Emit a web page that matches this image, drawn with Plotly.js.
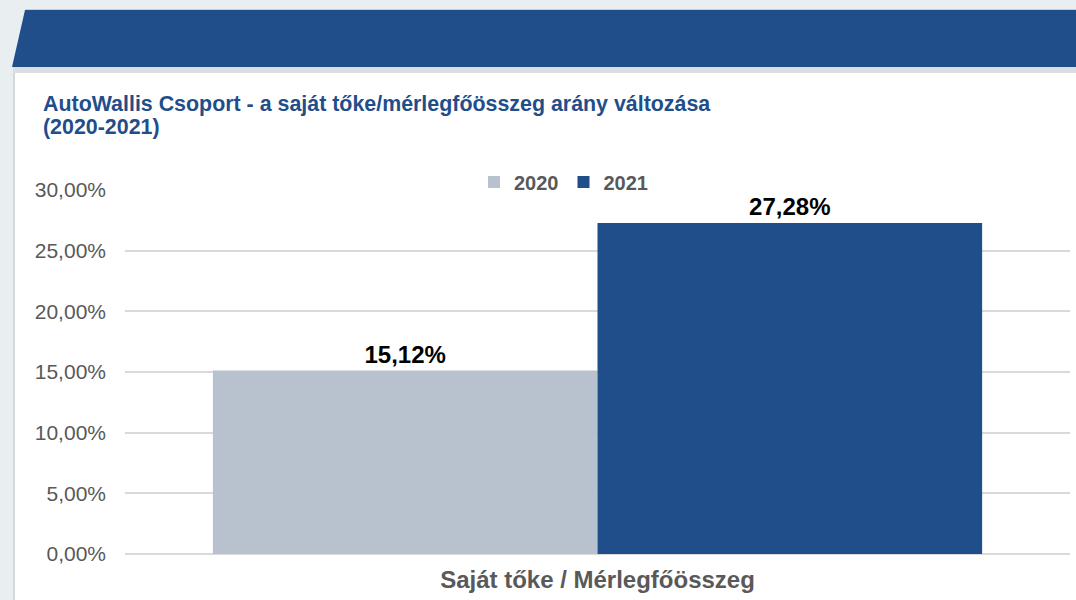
<!DOCTYPE html>
<html><head><meta charset="utf-8">
<script src="https://cdn.plot.ly/plotly-3.0.1.min.js"></script>
<style>html,body{margin:0;padding:0;background:#e9eef1;} #chart{width:1076px;height:600px;}</style>
</head><body><div id="chart"></div>
<script>
const categories = ['Saját tőke / Mérlegfőösszeg'];
const seriesNames = ['2020', '2021'];
const values2020 = [0.1512];
const values2021 = [0.2728];
const yTickVals = [0, 0.05, 0.10, 0.15, 0.20, 0.25, 0.30];
const titleLine1 = 'AutoWallis Csoport - a saját tőke/mérlegfőösszeg arány változása';
const titleLine2 = '(2020-2021)';

const W = 1076, H = 600, L = 125, R = 6, T = 190, B = 46;
const pw = W - L - R, ph = H - T - B;
const X = px => (px - L) / pw;
const Y = py => (H - B - py) / ph;

const FONT = '"Liberation Sans", Arial, sans-serif';
const BLUE = '#1f4e8a';
const GRAY_BAR = '#b8c2ce';
const TXT = '#595959';

const traces = [
  {type: 'bar', name: seriesNames[0], x: categories, y: values2020,
   marker: {color: GRAY_BAR}, texttemplate: '%{y:.2%}', textposition: 'outside',
   textfont: {family: FONT, size: 24, weight: 'bold', color: '#000'}, cliponaxis: false, hoverinfo: 'skip'},
  {type: 'bar', name: seriesNames[1], x: categories, y: values2021,
   marker: {color: BLUE}, texttemplate: '%{y:.2%}', textposition: 'outside',
   textfont: {family: FONT, size: 24, weight: 'bold', color: '#000'}, cliponaxis: false, hoverinfo: 'skip'}
];

const shapes = [
  {type: 'rect', xref: 'paper', yref: 'paper', x0: X(13), x1: X(1080), y0: Y(72), y1: Y(604),
   fillcolor: '#ffffff', line: {width: 0}, layer: 'below'},
  {type: 'line', xref: 'paper', yref: 'paper', x0: X(14), x1: X(14), y0: Y(72), y1: Y(604),
   line: {color: '#d3d8dc', width: 2}, layer: 'below'},
  {type: 'rect', xref: 'paper', yref: 'paper', x0: X(13), x1: X(1080), y0: Y(73), y1: Y(67),
   fillcolor: '#dcdfe2', line: {width: 0}, layer: 'below'},
  {type: 'line', xref: 'paper', yref: 'paper', x0: X(25), x1: X(1080), y0: Y(9.5), y1: Y(9.5),
   line: {color: '#c9ced3', width: 1}, layer: 'below'},
  {type: 'path', xref: 'paper', yref: 'paper', layer: 'below',
   path: `M ${X(25)} ${Y(10)} L ${X(1080)} ${Y(10)} L ${X(1080)} ${Y(67)} L ${X(12)} ${Y(67)} Z`,
   fillcolor: BLUE, line: {width: 0}}
];

const annotations = [
  {xref: 'paper', yref: 'paper', x: X(41), y: Y(104), xanchor: 'left', yanchor: 'middle',
   text: titleLine1, showarrow: false, font: {family: FONT, size: 21.4, weight: 'bold', color: BLUE}},
  {xref: 'paper', yref: 'paper', x: X(41), y: Y(127), xanchor: 'left', yanchor: 'middle',
   text: titleLine2, showarrow: false, font: {family: FONT, size: 21.4, weight: 'bold', color: BLUE}}
];

const layout = {
  width: W, height: H,
  margin: {l: L, r: R, t: T, b: B, pad: 0},
  paper_bgcolor: '#e9eef1',
  plot_bgcolor: '#ffffff',
  separators: ', ',
  barmode: 'group',
  bargap: 0.186,
  bargroupgap: 0,
  showlegend: true,
  legend: {orientation: 'h', x: X(474), xanchor: 'left', y: Y(182), yanchor: 'middle',
           bgcolor: 'rgba(0,0,0,0)', font: {family: FONT, size: 20, weight: 'bold', color: TXT},
           itemwidth: 30, traceorder: 'normal'},
  xaxis: {type: 'category', showgrid: false, zeroline: false, showline: false, ticks: '',
          tickfont: {family: FONT, size: 24, weight: 'bold', color: TXT}, ticklabelstandoff: 9,
          fixedrange: true},
  yaxis: {range: [0, 0.30], tickvals: yTickVals, tickformat: '.2%', showgrid: true,
          gridcolor: '#d9d9d9', gridwidth: 2, zeroline: true, zerolinecolor: '#d9d9d9', zerolinewidth: 2,
          showline: false, ticks: '', tickfont: {family: FONT, size: 21, color: TXT},
          ticklabelstandoff: 18, fixedrange: true},
  shapes: shapes,
  annotations: annotations
};

Plotly.newPlot('chart', traces, layout, {displayModeBar: false, staticPlot: true});
</script>
</body></html>
